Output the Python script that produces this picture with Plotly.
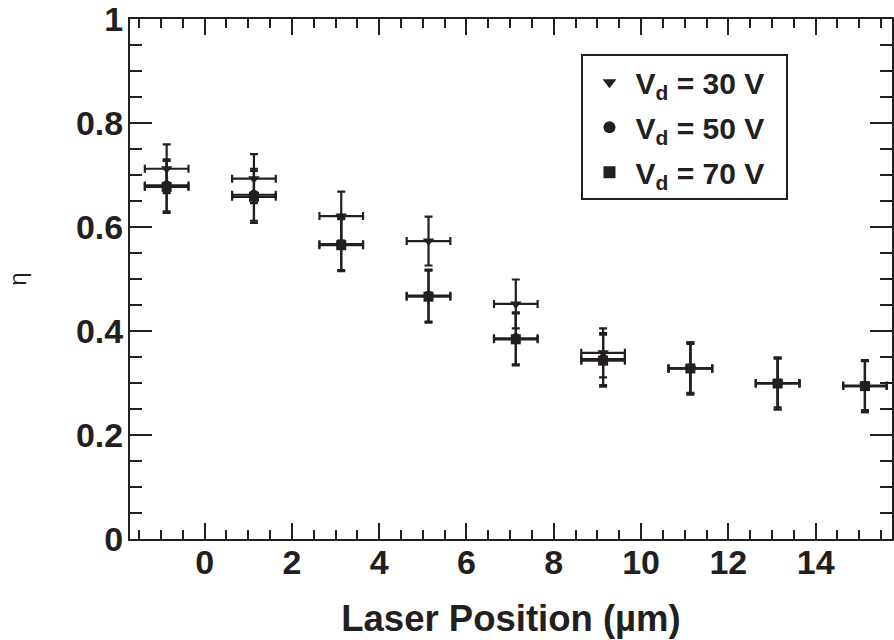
import plotly.graph_objects as go

# ---- data ----
laser_pos = [-0.87, 1.13, 3.13, 5.13, 7.13, 9.13, 11.13, 13.13, 15.13]
eta_30V = [0.712, 0.693, 0.621, 0.573, 0.452, 0.358, 0.328, 0.300, 0.295]
eta_50V = [0.680, 0.662, 0.567, 0.468, 0.386, 0.346, 0.328, 0.299, 0.294]
eta_70V = [0.677, 0.658, 0.565, 0.466, 0.384, 0.343, 0.328, 0.299, 0.294]
err_y_30V = [0.047] * 9
err_y_50V = [0.050] * 9
err_y_70V = [0.050] * 9
err_x = [0.5] * 9
series_names = ["V<sub>d</sub> = 30 V\u00a0\u00a0", "V<sub>d</sub> = 50 V\u00a0\u00a0", "V<sub>d</sub> = 70 V\u00a0\u00a0"]
x_ticks = [0, 2, 4, 6, 8, 10, 12, 14]
y_ticks = [0, 0.2, 0.4, 0.6, 0.8, 1]
y_ticklabels = ["0", "0.2", "0.4", "0.6", "0.8", "1"]

INK = "#231f20"
FONT = "Liberation Sans, Arial, sans-serif"

fig = go.Figure()

specs = [
    (eta_30V, err_y_30V, "triangle-down", 10, series_names[0]),
    (eta_50V, err_y_50V, "circle", 10, series_names[1]),
    (eta_70V, err_y_70V, "square", 10, series_names[2]),
]
for i, (yv, ey, sym, sz, name) in enumerate(specs):
    fig.add_trace(go.Scatter(
        x=laser_pos, y=yv, mode="markers", name=name,
        legendgroup=f"g{i}",
        marker=dict(symbol=sym, size=sz, color=INK, line=dict(width=0)),
        error_y=dict(type="data", array=ey, visible=True, color=INK, thickness=2.2, width=4),
        error_x=dict(type="data", array=err_x, visible=True, color=INK, thickness=2.2, width=4),
    ))

axis_common = dict(
    showline=True, linecolor=INK, linewidth=2, mirror="ticks",
    ticks="inside", tickcolor=INK, tickwidth=2,
    showgrid=False, zeroline=False,
    tickfont=dict(family=FONT, size=34, color=INK, weight="bold"),
    ticklabeloverflow="allow",
)

fig.update_xaxes(
    **axis_common,
    range=[-1.71, 15.75], tickvals=x_ticks, ticklen=16,
    minor=dict(ticks="inside", dtick=0.5, ticklen=9, tickcolor=INK, tickwidth=2, showgrid=False),
    ticklabelstandoff=-8,
    title=dict(text="Laser Position (µm)", font=dict(family=FONT, size=36.5, color=INK, weight="bold"), standoff=26),
)
fig.update_yaxes(
    **axis_common,
    range=[0, 1], tickvals=y_ticks, ticktext=y_ticklabels, ticklen=22,
    minor=dict(ticks="inside", dtick=0.05, ticklen=12, tickcolor=INK, tickwidth=2, showgrid=False),
    ticklabelstandoff=-2,
    title=dict(text="η", font=dict(family=FONT, size=24, color=INK), standoff=43),
)

fig.update_layout(
    width=894, height=640,
    margin=dict(l=130, r=0, t=19, b=101),
    paper_bgcolor="white", plot_bgcolor="white",
    showlegend=True,
    legend=dict(
        x=0.5925, y=0.932, xanchor="left", yanchor="top",
        bgcolor="white", bordercolor=INK, borderwidth=2,
        font=dict(family=FONT, size=30, color=INK, weight="bold"),
        tracegroupgap=3, itemsizing="constant", itemwidth=42,
    ),
)

fig.write_html("out.html")
